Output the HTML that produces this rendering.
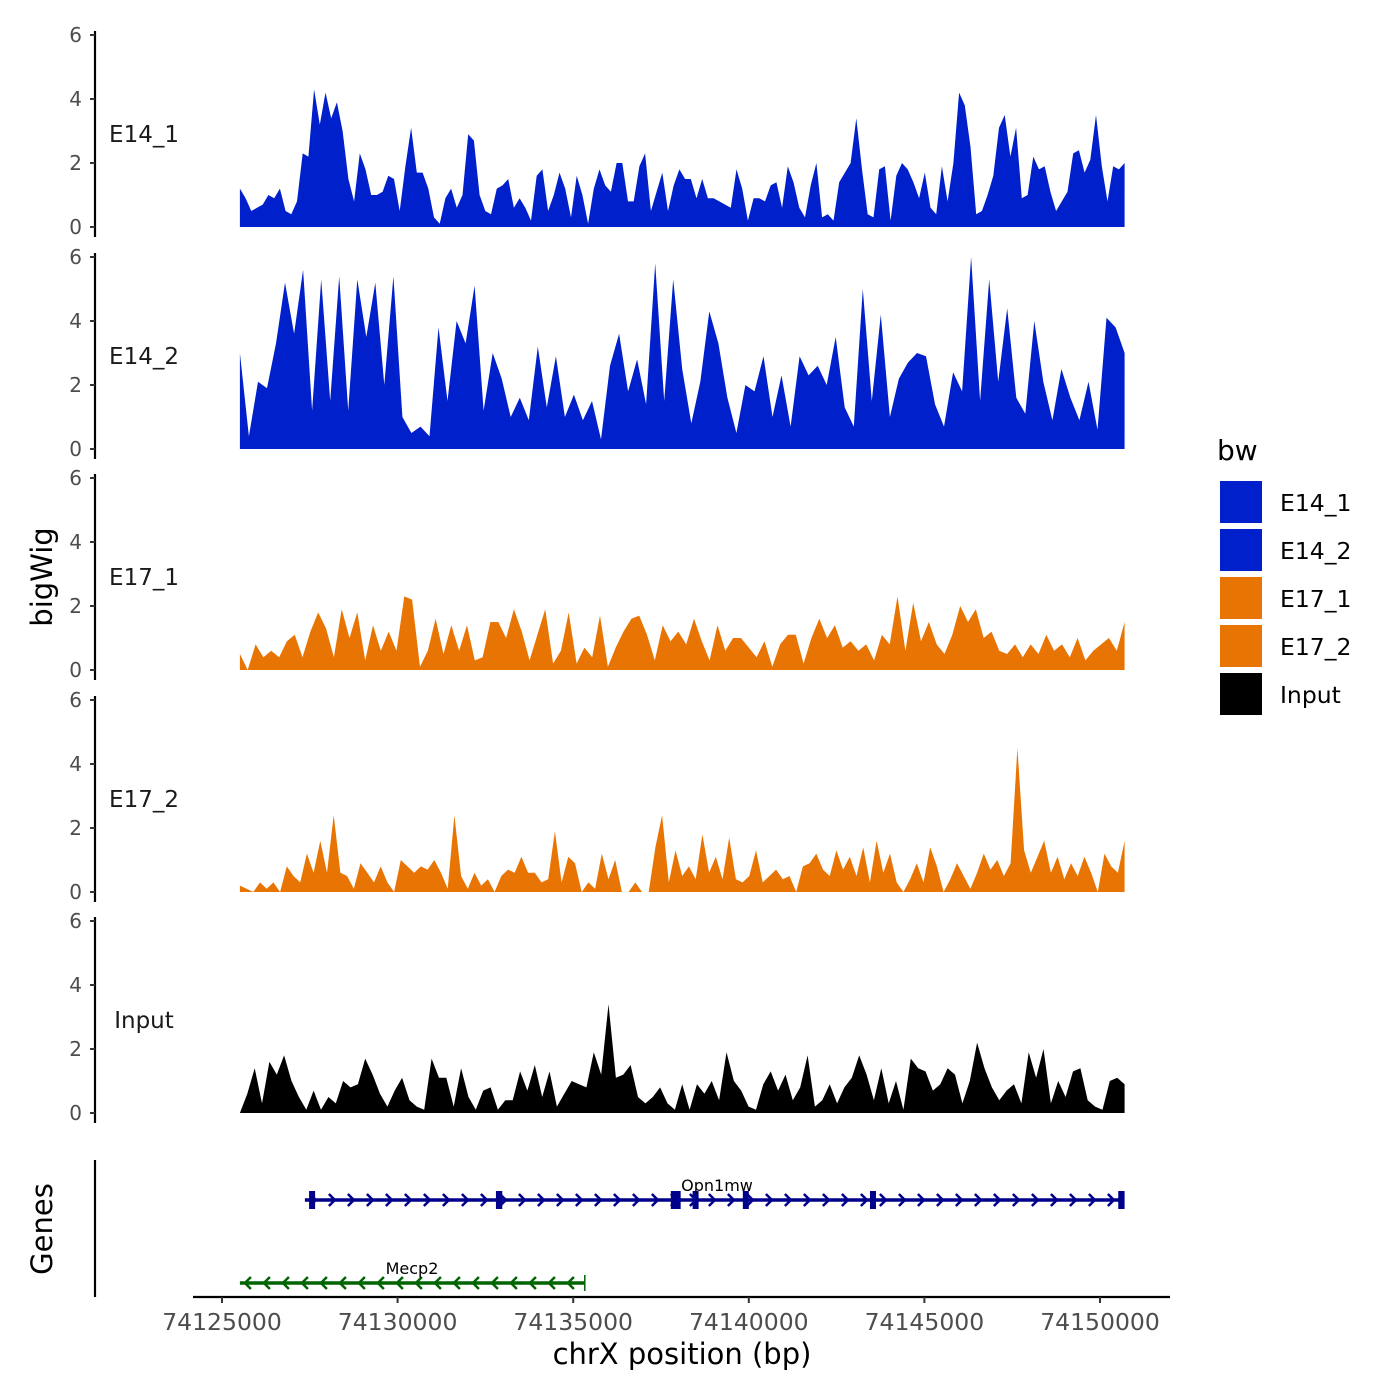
<!DOCTYPE html>
<html><head><meta charset="utf-8"><style>
html,body{margin:0;padding:0;background:#fff;}
svg{display:block;font-family:"DejaVu Sans","Liberation Sans",sans-serif;}
</style></head><body>
<svg id="chart" width="1400" height="1400" viewBox="0 0 1400 1400">
<rect width="1400" height="1400" fill="#fff"/>
<g id="tracks"></g>
<g id="genes"></g>
<g id="xaxis"></g>
<text x="0" y="0" transform="translate(52,577) rotate(-90)" text-anchor="middle" font-size="29" fill="#000">bigWig</text>
<text x="0" y="0" transform="translate(52,1229) rotate(-90)" text-anchor="middle" font-size="29" fill="#000">Genes</text>
<text x="682" y="1364" text-anchor="middle" font-size="29" fill="#000">chrX position (bp)</text>
<g id="legend"></g>
</svg>
<script>
const trackNames = ["E14_1","E14_2","E17_1","E17_2","Input"];
const trackColors = ["#0020CC","#0020CC","#E87503","#E87503","#000000"];
const e14_1 = [1.2,0.9,0.5,0.6,0.7,1.0,0.9,1.2,0.5,0.4,0.8,2.3,2.2,4.3,3.2,4.2,3.4,3.9,3.0,1.5,0.8,2.3,1.8,1.0,1.0,1.1,1.6,1.5,0.5,1.9,3.1,1.7,1.7,1.2,0.3,0.1,0.9,1.2,0.6,1.0,2.9,2.7,1.0,0.5,0.4,1.2,1.3,1.5,0.6,0.9,0.6,0.2,1.6,1.8,0.5,1.0,1.7,1.2,0.3,1.6,1.0,0.1,1.2,1.8,1.3,1.1,2.0,2.0,0.8,0.8,1.9,2.3,0.5,1.1,1.7,0.5,1.3,1.8,1.5,1.5,0.9,1.5,0.9,0.9,0.8,0.7,0.6,1.8,1.2,0.2,0.9,0.9,0.8,1.3,1.4,0.6,1.9,1.4,0.6,0.3,1.3,2.0,0.3,0.4,0.2,1.4,1.7,2.0,3.4,1.8,0.4,0.3,1.8,1.9,0.2,1.6,2.0,1.8,1.4,0.9,1.7,0.6,0.4,1.9,0.8,2.0,4.2,3.8,2.5,0.4,0.5,1.0,1.6,3.1,3.5,2.2,3.1,0.9,1.0,2.2,1.8,1.9,1.1,0.5,0.8,1.1,2.3,2.4,1.7,2.1,3.5,1.9,0.8,1.9,1.8,2.0];
const e14_2 = [3.0,0.4,2.1,1.9,3.3,5.2,3.6,5.6,1.2,5.3,1.5,5.4,1.2,5.3,3.5,5.2,2.0,5.4,1.0,0.5,0.7,0.4,3.8,1.5,4.0,3.3,5.1,1.2,3.0,2.2,1.0,1.6,0.9,3.2,1.3,2.9,1.0,1.7,0.9,1.5,0.3,2.6,3.6,1.8,2.8,1.4,5.8,1.5,5.3,2.5,0.8,2.1,4.3,3.3,1.6,0.5,2.0,1.8,2.9,1.0,2.3,0.7,2.9,2.3,2.6,2.0,3.5,1.3,0.7,5.0,1.5,4.2,1.0,2.2,2.7,3.0,2.9,1.4,0.7,2.4,1.8,6.0,1.5,5.3,2.1,4.4,1.6,1.1,4.0,2.1,0.9,2.5,1.6,0.9,2.1,0.6,4.1,3.8,3.0];
const e17_1 = [0.5,0.0,0.8,0.4,0.6,0.4,0.9,1.1,0.4,1.2,1.8,1.3,0.4,1.9,1.0,1.8,0.3,1.4,0.6,1.2,0.6,2.3,2.2,0.1,0.6,1.6,0.5,1.4,0.6,1.4,0.3,0.4,1.5,1.5,1.0,1.9,1.2,0.3,1.1,1.9,0.2,0.6,1.8,0.2,0.7,0.4,1.7,0.1,0.7,1.2,1.6,1.7,1.1,0.3,1.4,0.9,1.2,0.8,1.6,0.9,0.3,1.4,0.6,1.0,1.0,0.7,0.4,0.9,0.1,0.8,1.1,1.1,0.2,1.0,1.6,1.0,1.4,0.7,0.9,0.6,0.8,0.3,1.1,0.8,2.3,0.6,2.1,0.9,1.5,0.8,0.5,1.1,2.0,1.5,1.9,1.0,1.2,0.6,0.5,0.8,0.4,0.8,0.5,1.1,0.6,0.8,0.4,1.0,0.3,0.6,0.8,1.0,0.6,1.5];
const e17_2 = [0.2,0.1,0.0,0.3,0.1,0.3,0.0,0.8,0.5,0.3,1.2,0.6,1.6,0.6,2.4,0.6,0.5,0.1,0.9,0.6,0.3,0.8,0.3,0.0,1.0,0.8,0.6,0.8,0.7,1.0,0.6,0.1,2.4,0.5,0.1,0.6,0.2,0.4,0.0,0.5,0.7,0.6,1.1,0.6,0.6,0.3,0.4,1.9,0.3,1.1,0.9,0.0,0.3,0.1,1.2,0.4,1.0,0.0,0.0,0.3,0.0,0.0,1.4,2.4,0.3,1.3,0.5,0.8,0.4,1.8,0.6,1.1,0.4,1.7,0.4,0.3,0.5,1.3,0.3,0.5,0.7,0.4,0.5,0.0,0.8,0.9,1.2,0.7,0.5,1.3,0.7,1.1,0.5,1.4,0.3,1.6,0.6,1.2,0.3,0.0,0.4,0.9,0.3,1.4,0.8,0.0,0.4,0.9,0.5,0.1,0.6,1.2,0.7,1.0,0.5,0.9,4.5,1.3,0.6,1.1,1.6,0.6,1.1,0.4,0.9,0.5,1.1,0.6,0.0,1.2,0.8,0.6,1.6];
const input = [0.0,0.6,1.4,0.3,1.6,1.2,1.8,1.0,0.5,0.1,0.7,0.1,0.5,0.3,1.0,0.8,0.9,1.7,1.2,0.6,0.2,0.7,1.1,0.4,0.2,0.1,1.7,1.1,1.1,0.2,1.4,0.5,0.1,0.7,0.8,0.1,0.4,0.4,1.3,0.7,1.5,0.5,1.3,0.2,0.6,1.0,0.9,0.8,1.9,1.2,3.4,1.1,1.2,1.5,0.5,0.3,0.5,0.8,0.3,0.1,0.9,0.1,0.9,0.6,1.0,0.4,1.9,1.0,0.7,0.2,0.1,0.9,1.3,0.7,1.2,0.4,0.8,1.8,0.2,0.4,0.9,0.3,0.8,1.1,1.8,1.2,0.4,1.4,0.3,1.0,0.1,1.7,1.4,1.3,0.7,0.9,1.4,1.2,0.3,1.0,2.2,1.4,0.8,0.4,0.7,0.9,0.3,1.9,1.1,2.0,0.3,1.0,0.5,1.3,1.4,0.4,0.2,0.1,1.0,1.1,0.9];
const trackData = [e14_1,e14_2,e17_1,e17_2,input];
const dataStart = 74125510, dataEnd = 74150700;
const yTicks = [0,2,4,6];
const xTicks = [74125000,74130000,74135000,74140000,74145000,74150000];
const geneNames = ["Opn1mw","Mecp2"];
const geneStarts = [74127360,74125510];
const geneEnds = [74150650,74135330];
const geneStrands = ["+","-"];
const geneColors = ["#00008B","#006400"];
const opnExonStarts = [74127480,74132800,74137780,74138400,74139830,74143450,74150520];
const opnExonEnds = [74127620,74132980,74138060,74138560,74139980,74143620,74150700];

const NS="http://www.w3.org/2000/svg";
function mk(tag,attrs,parent){const e=document.createElementNS(NS,tag);for(const k in attrs)e.setAttribute(k,attrs[k]);if(parent)parent.appendChild(e);return e;}
function xScale(bp){return 222+(bp-74125000)*878/25000;}
const panelZero=[227,449,670,892,1113];
function yScale(p,v){return panelZero[p]-v*32;}

const tracks=document.getElementById('tracks');
trackData.forEach((arr,p)=>{
  const g=mk('g',{},tracks);
  
  
  const ax=mk('line',{x1:95,x2:95,y1:yScale(p,6)-4,y2:yScale(p,0)+10,stroke:'#000','stroke-width':2.2},g);
  
  
  yTicks.forEach(t=>{
    const tl=mk('line',{x1:90,x2:95,y1:yScale(p,t),y2:yScale(p,t),stroke:'#333','stroke-width':2},g);
    
    
    const tx=mk('text',{x:82,y:yScale(p,t)+7,'text-anchor':'end','font-size':20,fill:'#4d4d4d'},g);
    tx.textContent=t;
    
    
  });
  const lbl=mk('text',{x:144,y:yScale(p,2.65),'text-anchor':'middle','font-size':23,fill:'#1a1a1a'},g);
  lbl.textContent=trackNames[p];
  
  
  const n=arr.length;
  let d='M'+xScale(dataStart)+','+yScale(p,0);
  arr.forEach((v,i)=>{const bp=dataStart+(dataEnd-dataStart)*i/(n-1);d+=' L'+xScale(bp).toFixed(1)+','+yScale(p,v).toFixed(1);});
  d+=' L'+xScale(dataEnd)+','+yScale(p,0)+' Z';
  const area=mk('path',{d:d,fill:trackColors[p]},g);
  
  
});

const genes=document.getElementById('genes');
const gax=mk('line',{x1:95,x2:95,y1:1160,y2:1297,stroke:'#000','stroke-width':2.2},genes);


const geneY=[1200,1283];
geneNames.forEach((nm,i)=>{
  const g=mk('g',{},genes);
  
  
  const x1=xScale(geneStarts[i]),x2=xScale(geneEnds[i]),y=geneY[i],c=geneColors[i];
  mk('line',{x1:x1,x2:x2,y1:y,y2:y,stroke:c,'stroke-width':3.5},g);
  const step=19;
  for(let x=x1+8;x<x2-4;x+=step){
    const dir=geneStrands[i]==='+'?1:-1;
    mk('polyline',{points:(x-3*dir)+','+(y-6)+' '+(x+3*dir)+','+y+' '+(x-3*dir)+','+(y+6),fill:'none',stroke:c,'stroke-width':2.5},g);
  }
  if(i===0){
    opnExonStarts.forEach((s,k)=>{
      const r=mk('rect',{x:xScale(s),y:y-9,width:Math.max(6,xScale(opnExonEnds[k])-xScale(s)),height:18,fill:c},g);
      
      
    });
  } else {
    mk('line',{x1:x2,x2:x2,y1:y-8,y2:y+8,stroke:c,'stroke-width':1.5},g);
  }
  const t=mk('text',{x:i===0?717:412,y:y-9,'text-anchor':'middle','font-size':16,fill:'#000'},g);
  t.textContent=nm;
  
  
});

const xa=document.getElementById('xaxis');
const xl=mk('line',{x1:193,x2:1170,y1:1297,y2:1297,stroke:'#000','stroke-width':2.2},xa);


xTicks.forEach(t=>{
  const tk=mk('line',{x1:xScale(t),x2:xScale(t),y1:1297,y2:1303,stroke:'#333','stroke-width':2},xa);
  
  
  const tx=mk('text',{x:xScale(t),y:1330,'text-anchor':'middle','font-size':23.5,fill:'#4d4d4d'},xa);
  tx.textContent=t;
  
  
});

const lg=document.getElementById('legend');
const lt=mk('text',{x:1217,y:460,'font-size':28,fill:'#000'},lg);
lt.textContent='bw';


trackNames.forEach((nm,i)=>{
  const g=mk('g',{},lg);
  
  
  const y=480+i*48;
  mk('rect',{x:1219,y:y,width:44,height:44,fill:trackColors[i],stroke:'#fff','stroke-width':2},g);
  const t=mk('text',{x:1280,y:y+31,'font-size':23.5,fill:'#000'},g);
  t.textContent=nm;
});
</script>
</body></html>
